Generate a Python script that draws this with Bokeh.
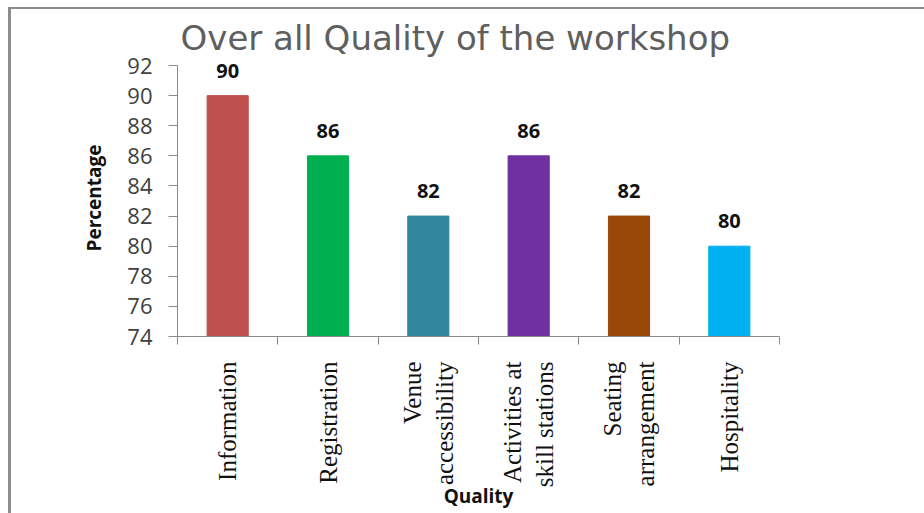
from math import pi
from bokeh.plotting import figure
from bokeh.models import (ColumnDataSource, Range1d, LinearAxis,
                          FixedTicker, LabelSet)
from bokeh.core.properties import value
from bokeh.embed import file_html
from bokeh.resources import INLINE

# ---- data ----
categories = ["Information", "Registration", "Venue\naccessibility",
              "Activities at\nskill stations", "Seating\narrangement", "Hospitality"]
values = [90, 86, 82, 86, 82, 80]
colors = ["#C0504D", "#00B050", "#31859C", "#7030A0", "#984807", "#00B0F0"]
y_ticks = [74, 76, 78, 80, 82, 84, 86, 88, 90, 92]
y_min, y_max = 74, 92

n = len(categories)
centers = [i + 0.5 for i in range(n)]
boundaries = list(range(n + 1))
source = ColumnDataSource(dict(x=centers, cat=categories, val=values, color=colors,
                               label=[str(v) for v in values]))

p = figure(width=924, height=513, x_range=Range1d(0, n),
           y_range=Range1d(y_min, y_max + 0.4), x_axis_location=None,
           output_backend="svg", toolbar_location=None,
           min_border_left=177, min_border_right=145,
           min_border_top=59, min_border_bottom=177)
p.border_fill_color = None
p.background_fill_color = "white"
p.outline_line_color = None
p.xgrid.visible = False
p.ygrid.visible = False
p.styles = {"box-shadow": "inset 8px 7px 0 0 white, inset 11px 9px 0 0 #8c8c8c"}

# title
p.title.text = "Over all Quality of the workshop"
p.title.align = "left"
p.title.offset = 3
p.title.standoff = 4
p.title.text_font = "DejaVu Sans"
p.title.text_font_style = "normal"
p.title.text_font_size = "34px"
p.title.text_color = "#5f5f5f"

p.vbar(x="x", top="val", bottom=y_min, width=0.41, source=source,
       fill_color="color", line_color="color")

labels = LabelSet(x="x", y="val", text="label", source=source,
                  text_align="center", text_baseline="alphabetic", y_offset=18,
                  text_font=value("Open Sans"), text_font_style="bold",
                  text_font_size="20px", text_color="#111111")
p.add_layout(labels)

# y axis
ya = p.yaxis[0]
ya.ticker = FixedTicker(ticks=y_ticks)
ya.bounds = (y_min, y_max)
ya.major_tick_out = 9
ya.major_tick_in = 0
ya.minor_tick_line_color = None
ya.axis_line_color = "#8a8a8a"
ya.major_tick_line_color = "#8a8a8a"
ya.major_label_text_font = "Open Sans"
ya.major_label_text_font_size = "22px"
ya.major_label_text_color = "#404040"
ya.major_label_standoff = 16
ya.axis_label = "Percentage"
ya.axis_label_text_font = "Open Sans"
ya.axis_label_text_font_style = "bold"
ya.axis_label_text_font_size = "19px"
ya.axis_label_text_color = "#111111"
ya.axis_label_standoff = 17

# boundary ticks between categories (no labels)
tick_axis = LinearAxis(ticker=FixedTicker(ticks=boundaries, minor_ticks=[]),
                       major_label_overrides={b: "" for b in boundaries},
                       major_tick_out=8, major_tick_in=0,
                       minor_tick_line_color=None,
                       major_label_text_font_size="1px", major_label_standoff=0,
                       axis_line_color="#8a8a8a", major_tick_line_color="#8a8a8a")
p.add_layout(tick_axis, "below")

# category labels at bar centers
cat_axis = LinearAxis(ticker=FixedTicker(ticks=centers, minor_ticks=[]),
                      major_label_overrides={c: name for c, name in zip(centers, categories)},
                      axis_line_color=None, major_tick_line_color=None,
                      minor_tick_line_color=None,
                      major_tick_out=0, major_tick_in=0,
                      major_label_orientation=pi / 2,
                      major_label_text_font="Liberation Serif",
                      major_label_text_font_size="25px",
                      major_label_text_color="#111111",
                      major_label_standoff=17,
                      axis_label="Quality",
                      axis_label_text_font="Open Sans",
                      axis_label_text_font_style="bold",
                      axis_label_text_font_size="19px",
                      axis_label_text_color="#111111",
                      axis_label_standoff=-7)
p.add_layout(cat_axis, "below")

open("out.html", "w").write(file_html(p, INLINE))
